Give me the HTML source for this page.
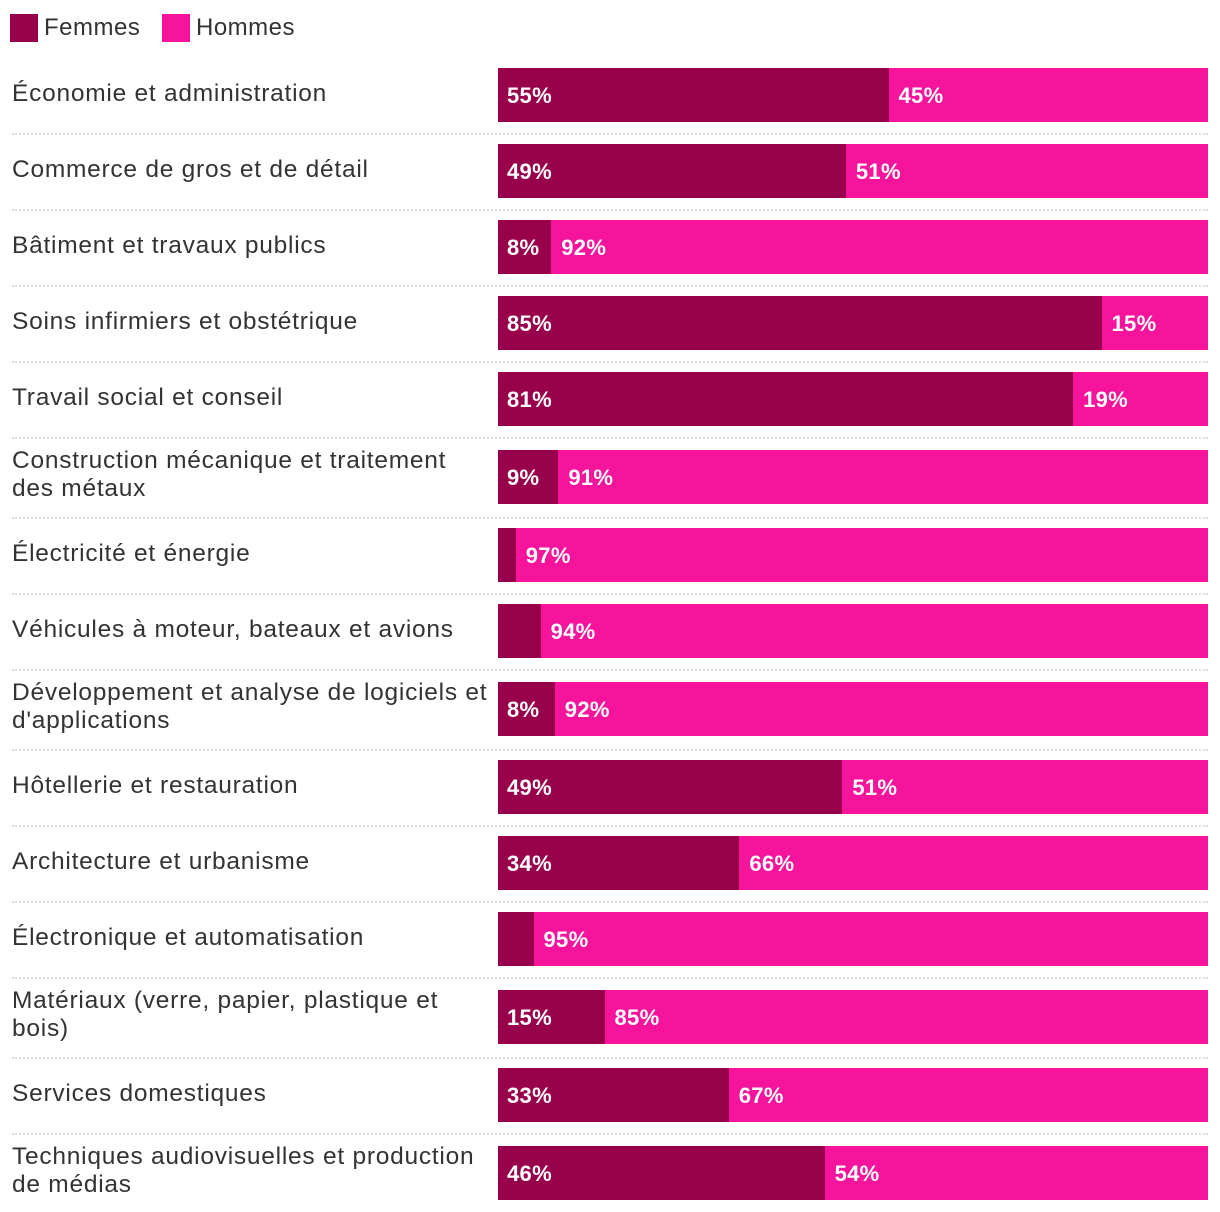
<!DOCTYPE html>
<html><head><meta charset="utf-8">
<style>
body{margin:0;width:1220px;height:1212px;background:#fff;font-family:"Liberation Sans",sans-serif;color:#333;position:relative;overflow:hidden}
.leg{position:absolute;top:14px;height:28px;display:flex;align-items:center;font-size:24px;letter-spacing:0.5px}
.sw{width:28px;height:28px;margin-right:6px}
.lab{position:absolute;left:12px;width:482px;font-size:24.5px;letter-spacing:0.75px;line-height:28px}
.sep{position:absolute;left:12px;width:1196px;border-top:2px dotted #ddd;height:0}
.bar{position:absolute;height:54px}
.val{position:absolute;color:#fff;font-size:22px;font-weight:bold;line-height:56px;letter-spacing:0.3px}
</style></head><body>
<div class="leg" style="left:10px"><div class="sw" style="background:#99004c"></div>Femmes</div>
<div class="leg" style="left:162px"><div class="sw" style="background:#f5149b"></div>Hommes</div>
<div id="chart"></div>
<script>
const categories=["Économie et administration","Commerce de gros et de détail","Bâtiment et travaux publics","Soins infirmiers et obstétrique","Travail social et conseil","Construction mécanique et traitement des métaux","Électricité et énergie","Véhicules à moteur, bateaux et avions","Développement et analyse de logiciels et d'applications","Hôtellerie et restauration","Architecture et urbanisme","Électronique et automatisation","Matériaux (verre, papier, plastique et bois)","Services domestiques","Techniques audiovisuelles et production de médias"];
const femmes=[55,49,7.5,85,81,8.5,2.5,6,8,48.5,34,5,15,32.5,46];
const hommes=[45,51,92.5,15,19,91.5,97.5,94,92,51.5,66,95,85,67.5,54];
const femmesLabels=["55%","49%","8%","85%","81%","9%","","","8%","49%","34%","","15%","33%","46%"];
const hommesLabels=["45%","51%","92%","15%","19%","91%","97%","94%","92%","51%","66%","95%","85%","67%","54%"];
const twoLine=[false,false,false,false,false,true,false,false,true,false,false,false,true,false,true];
const X0=498,W=710;
function xs(v){return v/100*W;}
const c=document.getElementById('chart');
let y=57;
categories.forEach((cat,i)=>{
  const h=twoLine[i]?80:76;
  const by=y+Math.round((h-54)/2);
  const lab=document.createElement('div');
  lab.className='lab';
  
  
  lab.textContent=cat;
  lab.style.top=(twoLine[i]?by-3:by+12)+'px';
  c.appendChild(lab);
  const fw=xs(femmes[i]), hw=xs(hommes[i]);
  const b1=document.createElement('div');
  b1.className='bar';
  
  
  b1.style.cssText+=`left:${X0}px;top:${by}px;width:${fw}px;background:#99004c`;
  c.appendChild(b1);
  const b2=document.createElement('div');
  b2.className='bar';
  
  
  b2.style.cssText+=`left:${X0+fw}px;top:${by}px;width:${hw}px;background:#f5149b`;
  c.appendChild(b2);
  if(femmesLabels[i]){
    const v=document.createElement('div');v.className='val';
    
    
    v.textContent=femmesLabels[i];v.style.left=(X0+9)+'px';v.style.top=by+'px';c.appendChild(v);
  }
  const v2=document.createElement('div');v2.className='val';
  
  
  v2.textContent=hommesLabels[i];v2.style.left=(X0+fw+10)+'px';v2.style.top=by+'px';c.appendChild(v2);
  y+=h;
  if(i<categories.length-1){
    const s=document.createElement('div');s.className='sep';
    
    
    s.style.top=y+'px';c.appendChild(s);
  }
});
</script>
</body></html>
